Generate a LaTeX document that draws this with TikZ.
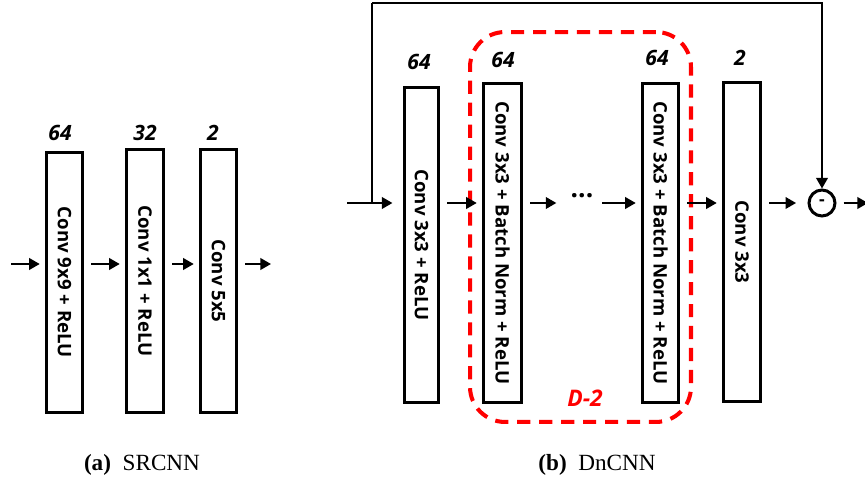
\documentclass[tikz,border=0pt]{standalone}
\usepackage{fontspec}
\setmainfont{Liberation Serif}
\setsansfont{Open Sans}
\usetikzlibrary{arrows.meta,positioning}

\tikzset{
  layer/.style={draw, line width=1.7pt, inner sep=0pt},
  layertext/.style={rotate=-90, font=\sffamily\bfseries\fontsize{10.6}{12}\selectfont},
  chan/.style={font=\sffamily\bfseries\itshape\fontsize{12}{14}\selectfont, inner sep=0pt},
  arr/.style={line width=1.3pt, -{Triangle[length=6pt,width=6.5pt]}, shorten <=4pt, shorten >=3pt},
  group/.style={draw=red, line width=2.3pt, dash pattern=on 7.5pt off 5pt, rounded corners=0.7cm, inner sep=0pt},
  caption/.style={font=\fontsize{13.2}{15}\selectfont}
}

\begin{document}
\begin{tikzpicture}[x=0.02cm, y=-0.02cm]
  \useasboundingbox (0,0) rectangle (865,479);

  % Draw the SRCNN layers
  \node[layer, minimum width=0.72cm, minimum height=5.2cm] (a1) at (64.5,282.5) {};
  \node[layer, minimum width=0.74cm, minimum height=5.26cm] (a2) at (145,281) {};
  \node[layer, minimum width=0.72cm, minimum height=5.26cm] (a3) at (218.5,281) {};
  \node[layertext] (a1t) at (a1) {Conv 9x9 + ReLU};
  \node[layertext] (a2t) at (a2) {Conv 1x1 + ReLU};
  \node[layertext] (a3t) at (a3) {Conv 5x5};
  \node[chan] (a1n) at (60,133) {64};
  \node[chan] (a2n) at (145,133) {32};
  \node[chan] (a3n) at (213,133) {2};

  % SRCNN arrows
  \coordinate (ya) at (0,264);
  \coordinate (ina) at (11,264);
  \coordinate (outa) at (271,264);
  \draw[arr, shorten <=0pt] (ina) -- (a1.west |- ya);
  \draw[arr] (a1.east |- ya) -- (a2.west |- ya);
  \draw[arr] (a2.east |- ya) -- (a3.west |- ya);
  \draw[arr, shorten >=0pt] (a3.east |- ya) -- (outa);

  % Dashed block of repeated layers
  \node[group, minimum width=4.42cm, minimum height=7.8cm] (grp) at (580.5,227) {};
  \node[chan, text=red, font=\sffamily\bfseries\itshape\fontsize{13}{15}\selectfont] (grpn) at (585,398) {D-2};

  % Draw the DnCNN layers
  \node[layer, minimum width=0.68cm, minimum height=6.3cm] (b1) at (421.5,245) {};
  \node[layer, minimum width=0.76cm, minimum height=6.38cm] (b2) at (502.5,243) {};
  \node[layer, minimum width=0.72cm, minimum height=6.38cm] (b3) at (660.5,243) {};
  \node[layer, minimum width=0.74cm, minimum height=6.38cm] (b4) at (742,242) {};
  \node[layertext] (b1t) at (b1) {Conv 3x3 + ReLU};
  \node[layertext] (b2t) at (b2) {Conv 3x3 + Batch Norm + ReLU};
  \node[layertext] (b3t) at (b3) {Conv 3x3 + Batch Norm + ReLU};
  \node[layertext] (b4t) at (b4) {Conv 3x3};
  \node[chan] (b1n) at (419,62) {64};
  \node[chan] (b2n) at (503,60) {64};
  \node[chan] (b3n) at (657,58) {64};
  \node[chan] (b4n) at (740,58) {2};
  \node[font=\sffamily\bfseries\fontsize{15}{17}\selectfont, inner sep=0pt, minimum width=0.8cm] (dots) at (582,196) {...};
  \node[layer, circle, minimum size=0.52cm, font=\sffamily\bfseries] (sub) at (822,203) {-};

  % DnCNN arrows and skip connection
  \coordinate (yb) at (0,203);
  \coordinate (inb) at (347,203);
  \coordinate (tap) at (372,203);
  \coordinate (top) at (372,3);
  \coordinate (outb) at (868,203);
  \draw[arr, shorten <=0pt, shorten >=6pt] (inb) -- (b1.west |- yb);
  \draw[line width=1.3pt] (tap) -- (top);
  \draw[arr, shorten <=0pt, shorten >=0pt] (top) -| (sub.north);
  \draw[arr] (b1.east |- yb) -- (b2.west |- yb);
  \draw[arr] (b2.east |- yb) -- (dots.west |- yb);
  \draw[arr, shorten <=0pt] (dots.east |- yb) -- (b3.west |- yb);
  \draw[arr] (b3.east |- yb) -- (b4.west |- yb);
  \draw[arr, shorten >=6.5pt] (b4.east |- yb) -- (sub.west);
  \draw[arr, shorten >=0pt] (sub.east) -- (outb);

  % Captions
  \node[caption] (capa) at (142,465) {\textbf{(a)}\ \ SRCNN};
  \node[caption] (capb) at (597,465) {\textbf{(b)}\ \ DnCNN};
\end{tikzpicture}
\end{document}
